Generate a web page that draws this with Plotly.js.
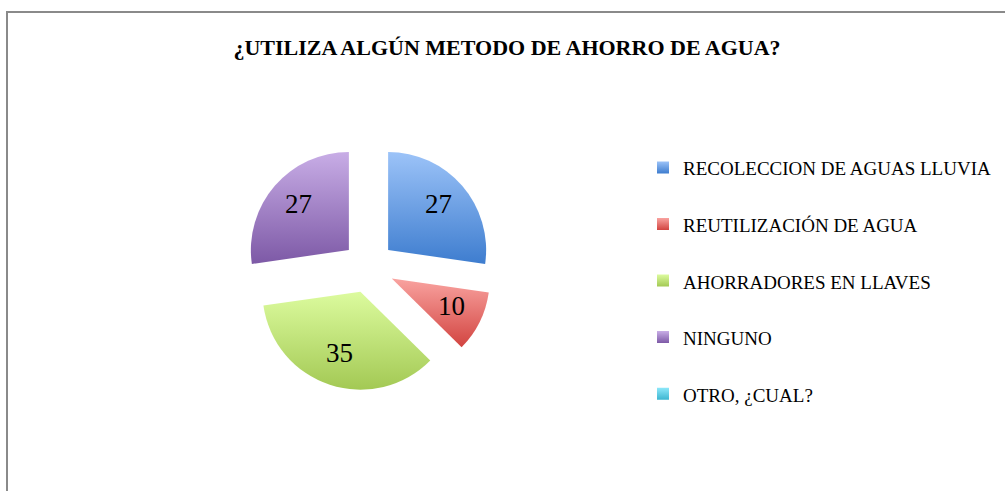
<!DOCTYPE html>
<html>
<head>
<meta charset="utf-8">
<script src="https://cdn.plot.ly/plotly-3.0.1.min.js"></script>
<style>html,body{margin:0;padding:0;background:#fff;}#chart{width:1005px;height:491px;}</style>
</head>
<body>
<div id="chart"></div>
<script>
const categories = ['RECOLECCION DE AGUAS LLUVIA', 'REUTILIZACIÓN DE AGUA', 'AHORRADORES EN LLAVES', 'NINGUNO', 'OTRO, ¿CUAL?'];
const values = [27, 10, 35, 27, 0];
const baseColors = ['#6c9fe4', '#e67370', '#c0e27a', '#a283c7', '#66cfe6'];
const gradTop = ['#9cc3f8', '#f9a3a0', '#dcfb9e', '#c8ade6', '#8ee8fa'];
const gradBottom = ['#3e7dcf', '#d24440', '#a3c954', '#7d59a6', '#3db6d1'];
const chartTitle = '¿UTILIZA ALGÚN METODO DE AHORRO DE AGUA?';

const W = 1005, H = 491;
const px = v => v / W;
const py = v => 1 - v / H;

// pie geometry (pixels)
const cx = 368.5, cy = 267, R = 98, pull = 0.265;
const half = R * (1 + pull);
const labelRadius = 0.68;

const legendLabels = categories.map(c => '<span style="font-size:19px">' + c + '</span><br>\u00a0');

const trace = {
  type: 'pie',
  labels: legendLabels,
  values: values,
  textinfo: 'none',
  sort: false,
  direction: 'clockwise',
  rotation: 0,
  pull: pull,
  marker: {colors: baseColors, line: {width: 0}},
  hoverinfo: 'none',
  domain: {x: [px(cx - half), px(cx + half)], y: [py(cy + half), py(cy - half)]}
};

// data labels placed along each slice's mid-angle (derived from the values)
const total = values.reduce((a, b) => a + b, 0);
let cum = 0;
const annotations = [];
values.forEach(v => {
  const mid = (cum + v / 2) / total * 2 * Math.PI;
  cum += v;
  if (v <= 0) return;
  const d = (pull + labelRadius) * R;
  annotations.push({
    xref: 'paper', yref: 'paper',
    x: px(cx + d * Math.sin(mid)), y: py(cy - d * Math.cos(mid) - 2),
    xanchor: 'center', yanchor: 'middle',
    text: String(v), showarrow: false,
    font: {family: 'Liberation Serif', size: 27, color: '#000'}
  });
});

const layout = {
  width: W, height: H,
  margin: {l: 0, r: 0, t: 0, b: 0},
  paper_bgcolor: '#fff',
  plot_bgcolor: '#fff',
  font: {family: 'Liberation Serif', color: '#000'},
  title: {
    text: '<b>' + chartTitle + '</b>',
    font: {family: 'Liberation Serif', size: 22, color: '#000'},
    x: px(507), xanchor: 'center', y: py(47), yanchor: 'middle'
  },
  showlegend: true,
  legend: {
    x: px(643), xanchor: 'left',
    y: py(294), yanchor: 'middle',
    font: {family: 'Liberation Serif', size: 20.6, color: '#000'},
    valign: 'top',
    bgcolor: 'rgba(0,0,0,0)',
    borderwidth: 0,
    itemclick: false, itemdoubleclick: false
  },
  annotations: annotations,
  shapes: [{
    type: 'rect', xref: 'paper', yref: 'paper',
    x0: px(7), x1: 1.05, y0: -0.05, y1: py(12),
    line: {color: '#8a8a8a', width: 2}, fillcolor: 'rgba(0,0,0,0)', layer: 'below'
  }]
};

function applyGradients(gd) {
  const svg = gd.querySelector('svg.main-svg');
  const NS = 'http://www.w3.org/2000/svg';
  let defs = svg.querySelector('defs');
  if (!defs) { defs = document.createElementNS(NS, 'defs'); svg.insertBefore(defs, svg.firstChild); }
  gradTop.forEach((top, i) => {
    const g = document.createElementNS(NS, 'linearGradient');
    g.setAttribute('id', 'sliceGrad' + i);
    g.setAttribute('x1', '0'); g.setAttribute('y1', '0');
    g.setAttribute('x2', '0'); g.setAttribute('y2', '1');
    const s1 = document.createElementNS(NS, 'stop');
    s1.setAttribute('offset', '0'); s1.setAttribute('stop-color', top);
    const s2 = document.createElementNS(NS, 'stop');
    s2.setAttribute('offset', '1'); s2.setAttribute('stop-color', gradBottom[i]);
    g.appendChild(s1); g.appendChild(s2);
    defs.appendChild(g);
  });
  gd.querySelectorAll('.slice').forEach(s => {
    const d = s.__data__;
    const idx = d ? d.i : null;
    const p = s.querySelector('path.surface');
    if (p && idx !== null && idx !== undefined) p.style.fill = 'url(#sliceGrad' + idx + ')';
  });
  gd.querySelectorAll('.legend .traces').forEach(t => {
    const d = t.__data__;
    const idx = d && d[0] ? d[0].i : null;
    const p = t.querySelector('path.legendpie');
    if (p && idx !== null && idx !== undefined) p.style.fill = 'url(#sliceGrad' + idx + ')';
  });
}

const gd = document.getElementById('chart');
Plotly.newPlot(gd, [trace], layout, {staticPlot: true, displayModeBar: false}).then(() => applyGradients(gd));
</script>
</body>
</html>
